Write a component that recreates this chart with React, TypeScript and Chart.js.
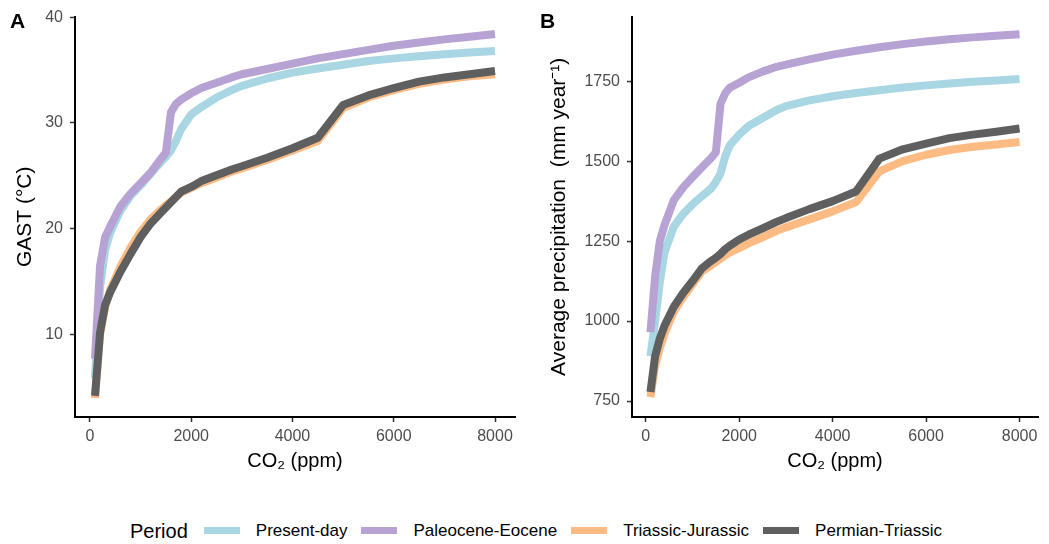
import React, { useEffect, useRef } from "react";
import { Chart, registerables } from "chart.js";

Chart.register(...registerables);

// ---- data ----
const co2 = [100, 200, 300, 400, 600, 800, 1000, 1200, 1400, 1500, 1600, 1700, 1800, 2000, 2200, 2500, 2800, 3000, 3500, 4000, 4500, 5000, 5500, 6000, 6500, 7000, 7500, 8000];

const periods = ["Present-day", "Paleocene-Eocene", "Triassic-Jurassic", "Permian-Triassic"];
const periodColors = ["#A8D7E3", "#B7A2D4", "#FDBB84", "#5F5F5F"];

const gastPresentDay = [5.9, 14.5, 18.0, 19.6, 21.7, 23.1, 24.1, 25.2, 26.3, 26.8, 27.4, 28.3, 29.4, 30.8, 31.5, 32.4, 33.1, 33.5, 34.2, 34.75, 35.15, 35.5, 35.85, 36.1, 36.3, 36.5, 36.65, 36.8];
const gastPaleoceneEocene = [7.7, 16.5, 19.2, 20.2, 22.1, 23.3, 24.3, 25.3, 26.6, 27.2, 31.0, 31.8, 32.2, 32.8, 33.3, 33.8, 34.3, 34.6, 35.1, 35.6, 36.1, 36.5, 36.9, 37.3, 37.6, 37.9, 38.15, 38.4];
const gastTriassicJurassic = [4.0, 10.0, 12.6, 14.2, 16.4, 18.2, 19.7, 20.9, 21.8, 22.2, 22.6, 23.0, 23.4, 23.85, 24.3, 24.85, 25.4, 25.7, 26.5, 27.4, 28.3, 31.4, 32.4, 33.1, 33.7, 34.1, 34.4, 34.6];
const gastPermianTriassic = [4.2, 10.2, 12.8, 14.0, 15.9, 17.6, 19.2, 20.5, 21.5, 22.0, 22.5, 23.0, 23.5, 23.95, 24.5, 25.05, 25.6, 25.9, 26.7, 27.6, 28.6, 31.7, 32.6, 33.3, 33.9, 34.3, 34.6, 34.9];

const precipPresentDay = [890, 1000, 1120, 1215, 1295, 1335, 1365, 1390, 1415, 1435, 1462, 1515, 1550, 1583, 1610, 1635, 1660, 1672, 1690, 1703, 1713, 1722, 1730, 1737, 1743, 1748, 1752, 1757];
const precipPaleoceneEocene = [965, 1140, 1250, 1300, 1378, 1418, 1450, 1480, 1510, 1528, 1680, 1712, 1730, 1745, 1762, 1780, 1795, 1802, 1818, 1833, 1845, 1856, 1866, 1874, 1881, 1887, 1892, 1897];
const precipTriassicJurassic = [762, 860, 915, 960, 1030, 1075, 1115, 1155, 1175, 1185, 1195, 1205, 1215, 1228, 1243, 1262, 1282, 1293, 1318, 1343, 1372, 1468, 1500, 1520, 1535, 1545, 1552, 1560];
const precipPermianTriassic = [778, 890, 945, 985, 1045, 1088, 1125, 1165, 1188, 1198, 1210, 1225, 1236, 1255, 1270, 1290, 1310, 1322, 1350, 1375, 1405, 1508, 1537, 1555, 1572, 1583, 1592, 1602];

const xTicks = [0, 2000, 4000, 6000, 8000];
const gastTicks = [10, 20, 30, 40];
const precipTicks = [750, 1000, 1250, 1500, 1750];

const FONT = "'Liberation Sans', Arial, Helvetica, sans-serif";

type PanelProps = {
  series: number[][];
  yTitle: string;
  yMin: number;
  yMax: number;
  yTicks: number[];
  width: number;
  height: number;
  yAxisWidth: number;
  rightPad: number;
  yTitlePad: number;
};

function Panel(p: PanelProps) {
  const ref = useRef<HTMLCanvasElement | null>(null);
  useEffect(() => {
    if (!ref.current) return;
    const datasets = p.series.map((vals, i) => ({
      label: periods[i],
      data: co2.map((x, j) => ({ x, y: vals[j] })),
      borderColor: periodColors[i],
      backgroundColor: periodColors[i],
      borderWidth: 8,
      borderCapStyle: "butt" as const,
      borderJoinStyle: "round" as const,
      pointRadius: 0,
      tension: 0,
      fill: false,
      order: 4 - i,
    }));
    const chart = new Chart(ref.current, {
      type: "line",
      data: { datasets },
      options: {
        animation: false,
        responsive: false,
        maintainAspectRatio: false,
        layout: { padding: { top: 16, right: p.rightPad, bottom: 0, left: 0 } },
        plugins: { legend: { display: false }, tooltip: { enabled: false } },
        scales: {
          x: {
            type: "linear",
            min: -295,
            max: 8395,
            afterBuildTicks: (s: any) => {
              s.ticks = xTicks.map((v) => ({ value: v }));
            },
            afterFit: (s: any) => {
              s.height = p.height - 417;
            },
            ticks: {
              autoSkip: false,
              maxRotation: 0,
              padding: 5,
              color: "#4D4D4D",
              font: { family: FONT, size: 16 },
              callback: (v: any) => String(v),
            },
            grid: {
              drawOnChartArea: false,
              drawTicks: true,
              tickLength: 5,
              tickColor: "#333333",
              tickWidth: 1.5,
            },
            border: { display: true, color: "#000000", width: 2 },
            title: {
              display: true,
              text: "CO₂ (ppm)",
              color: "#000000",
              font: { family: FONT, size: 20 },
              padding: { top: 0, bottom: 7 },
            },
          },
          y: {
            type: "linear",
            min: p.yMin,
            max: p.yMax,
            afterBuildTicks: (s: any) => {
              s.ticks = p.yTicks.map((v) => ({ value: v }));
            },
            afterFit: (s: any) => {
              s.width = p.yAxisWidth;
            },
            ticks: {
              autoSkip: false,
              padding: 7,
              color: "#4D4D4D",
              font: { family: FONT, size: 16 },
              callback: (v: any) => String(v),
            },
            grid: {
              drawOnChartArea: false,
              drawTicks: true,
              tickLength: 5,
              tickColor: "#333333",
              tickWidth: 1.5,
            },
            border: { display: true, color: "#000000", width: 2 },
            title: {
              display: true,
              text: p.yTitle,
              color: "#000000",
              font: { family: FONT, size: 21 },
              padding: { top: p.yTitlePad, bottom: 0 },
            },
          },
        },
      },
    });
    return () => chart.destroy();
  }, []);
  return <canvas ref={ref} width={p.width} height={p.height} style={{ display: "block", width: p.width, height: p.height }} />;
}

export default function App() {
  const legendItem = (i: number) => (
    <div key={i} style={{ display: "flex", alignItems: "center", marginLeft: i === 0 ? 16 : 14 }}>
      <div style={{ width: 36, height: 7, background: periodColors[i] }} />
      <div style={{ marginLeft: 16, fontSize: 17, lineHeight: "17px", color: "#000" }}>{periods[i]}</div>
    </div>
  );
  return (
    <div style={{ position: "absolute", left: 0, top: 0, width: 1049, height: 544, background: "#fff", fontFamily: FONT, overflow: "hidden" }}>
      <div style={{ position: "absolute", left: 0, top: 0 }}>
        <Panel
          series={[gastPresentDay, gastPaleoceneEocene, gastTriassicJurassic, gastPermianTriassic]}
          yTitle="GAST (°C)"
          yMin={2.2}
          yMax={40.05}
          yTicks={gastTicks}
          width={525}
          height={480}
          yAxisWidth={75}
          rightPad={10}
          yTitlePad={12.4}
        />
      </div>
      <div style={{ position: "absolute", left: 525, top: 0 }}>
        <Panel
          series={[precipPresentDay, precipPaleoceneEocene, precipTriassicJurassic, precipPermianTriassic]}
          yTitle="Average precipitation  (mm year⁻¹)"
          yMin={700}
          yMax={1952}
          yTicks={precipTicks}
          width={524}
          height={480}
          yAxisWidth={107}
          rightPad={11}
          yTitlePad={21.4}
        />
      </div>
      <div style={{ position: "absolute", left: 10, top: 10.25, fontSize: 21, lineHeight: "21px", fontWeight: "bold", color: "#000" }}>A</div>
      <div style={{ position: "absolute", left: 540, top: 10.25, fontSize: 21, lineHeight: "21px", fontWeight: "bold", color: "#000" }}>B</div>
      <div style={{ position: "absolute", left: 130, top: 520.7, height: 20, display: "flex", alignItems: "center", whiteSpace: "nowrap" }}>
        <div style={{ fontSize: 20, lineHeight: "20px", color: "#000" }}>Period</div>
        {periods.map((_, i) => legendItem(i))}
      </div>
    </div>
  );
}
